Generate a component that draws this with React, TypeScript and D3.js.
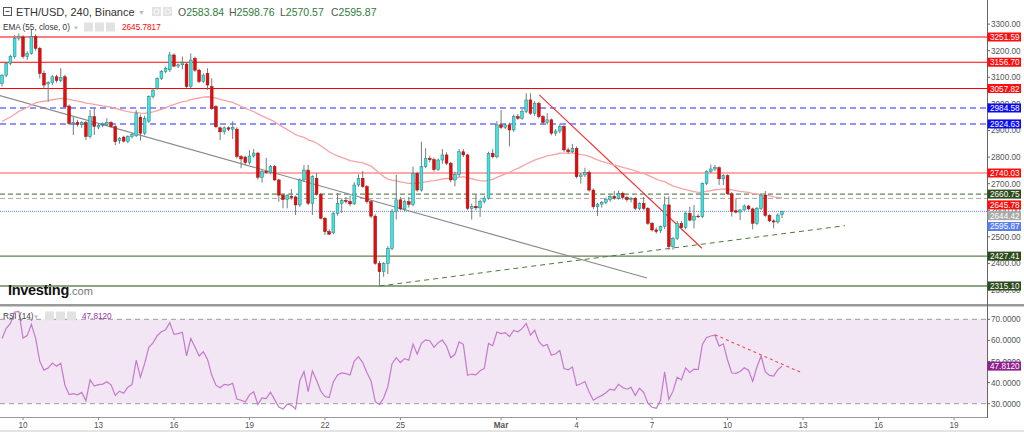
import React from 'react';
import * as d3 from 'd3';

// ---------------- DATA ----------------
const FIRST_CANDLE = '2022-02-09T04:00:00Z';
const CANDLE_HOURS = 4;

const OPEN = [
  3077, 3108, 3153, 3178, 3247, 3252, 3178, 3190, 3253, 3209,
  3115, 3075, 3080, 3102, 3088, 3102, 2992, 2925, 2930, 2922,
  2930, 2877, 2952, 2913, 2920, 2922, 2930, 2915, 2862, 2875,
  2860, 2877, 2880, 2950, 2890, 2935, 3027, 3059, 3096, 3122,
  3128, 3184, 3142, 3147, 3150, 3065, 3171, 3127, 3084, 3115,
  3065, 2990, 2910, 2895, 2910, 2905, 2905, 2802, 2800, 2779,
  2804, 2815, 2724, 2747, 2742, 2764, 2714, 2657, 2640, 2652,
  2650, 2620, 2714, 2751, 2626, 2720, 2660, 2570, 2520, 2515,
  2588, 2626, 2637, 2633, 2624, 2695, 2720, 2689, 2632, 2578,
  2400, 2369, 2400, 2457, 2595, 2639, 2605, 2632, 2622, 2739,
  2676, 2764, 2795, 2790, 2753, 2789, 2808, 2777, 2714, 2735,
  2820, 2808, 2607, 2615, 2609, 2632, 2645, 2814, 2801, 2921,
  2912, 2921, 2902, 2952, 2946, 2971, 3015, 2965, 3002, 2952,
  2930, 2940, 2890, 2898, 2915, 2827, 2820, 2833, 2726, 2733,
  2742, 2676, 2613, 2623, 2630, 2640, 2652, 2645, 2664, 2648,
  2640, 2645, 2607, 2626, 2607, 2551, 2526, 2524, 2538, 2620,
  2463, 2494, 2551, 2535, 2588, 2563, 2578, 2576, 2701, 2745,
  2755, 2760, 2718, 2730, 2662, 2598, 2593, 2601, 2616, 2605,
  2551, 2607, 2657, 2580, 2560, 2556, 2583.84,
];
const HIGH = [
  3112, 3158, 3185, 3259, 3265, 3258, 3198, 3278, 3262, 3215,
  3125, 3085, 3108, 3110, 3134, 3110, 2998, 2952, 2940, 2935,
  2936, 2977, 2983, 2925, 2930, 2946, 2935, 2920, 2875, 2880,
  2882, 2890, 2977, 2960, 2955, 3032, 3058, 3100, 3128, 3140,
  3196, 3190, 3152, 3178, 3155, 3190, 3178, 3132, 3115, 3134,
  3096, 2995, 2915, 2915, 2915, 2935, 2912, 2808, 2805, 2826,
  2830, 2820, 2752, 2797, 2770, 2770, 2718, 2662, 2660, 2680,
  2655, 2720, 2770, 2770, 2732, 2741, 2665, 2575, 2528, 2595,
  2664, 2645, 2650, 2655, 2705, 2735, 2748, 2695, 2638, 2585,
  2410, 2405, 2465, 2605, 2733, 2650, 2640, 2650, 2764, 2745,
  2858, 2833, 2805, 2798, 2795, 2830, 2818, 2782, 2745, 2830,
  2830, 2812, 2625, 2660, 2640, 2655, 2820, 2830, 2935, 2977,
  2925, 2930, 2960, 2962, 2980, 3040, 3040, 3010, 3008, 2958,
  2965, 2945, 2905, 2925, 2920, 2835, 2850, 2840, 2740, 2760,
  2750, 2682, 2628, 2635, 2648, 2658, 2672, 2674, 2670, 2655,
  2650, 2650, 2630, 2650, 2612, 2556, 2535, 2542, 2652, 2652,
  2500, 2560, 2560, 2595, 2613, 2620, 2585, 2705, 2750, 2772,
  2770, 2765, 2735, 2735, 2668, 2645, 2605, 2622, 2620, 2610,
  2612, 2662, 2672, 2585, 2566, 2588, 2598.76,
];
const LOW = [
  3065, 3100, 3145, 3170, 3238, 3170, 3165, 3185, 3200, 3096,
  3059, 3008, 3070, 3080, 3082, 2985, 2920, 2883, 2915, 2910,
  2864, 2870, 2883, 2905, 2912, 2918, 2910, 2845, 2850, 2855,
  2852, 2870, 2875, 2862, 2882, 2928, 3020, 3052, 3090, 3115,
  3120, 3138, 3135, 3130, 3059, 3060, 3120, 3078, 3078, 3052,
  2978, 2908, 2864, 2885, 2898, 2868, 2795, 2758, 2770, 2772,
  2798, 2716, 2704, 2738, 2735, 2710, 2632, 2607, 2607, 2640,
  2582, 2612, 2708, 2620, 2582, 2655, 2565, 2507, 2507, 2510,
  2580, 2590, 2625, 2615, 2620, 2688, 2685, 2625, 2570, 2395,
  2315, 2350, 2360, 2450, 2565, 2600, 2595, 2610, 2615, 2670,
  2670, 2758, 2780, 2745, 2748, 2775, 2770, 2705, 2690, 2725,
  2800, 2600, 2565, 2600, 2575, 2625, 2640, 2795, 2795, 2905,
  2905, 2840, 2895, 2940, 2940, 2965, 2958, 2955, 2945, 2920,
  2922, 2882, 2880, 2890, 2820, 2812, 2815, 2720, 2700, 2725,
  2670, 2605, 2578, 2610, 2622, 2632, 2640, 2640, 2640, 2632,
  2630, 2600, 2600, 2600, 2545, 2520, 2512, 2515, 2530, 2451,
  2451, 2488, 2525, 2528, 2558, 2532, 2572, 2570, 2695, 2740,
  2748, 2695, 2695, 2658, 2576, 2588, 2563, 2598, 2600, 2528,
  2545, 2600, 2575, 2555, 2532, 2550, 2570.57,
];
const CLOSE = [
  3108, 3153, 3178, 3247, 3252, 3178, 3190, 3253, 3209, 3115,
  3071, 3080, 3102, 3088, 3100, 2989, 2927, 2930, 2922, 2930,
  2877, 2952, 2915, 2920, 2922, 2930, 2915, 2858, 2871, 2860,
  2877, 2885, 2965, 2890, 2945, 3027, 3052, 3096, 3122, 3134,
  3184, 3142, 3147, 3155, 3065, 3165, 3127, 3084, 3108, 3071,
  2983, 2914, 2895, 2910, 2905, 2912, 2802, 2793, 2779, 2804,
  2815, 2724, 2747, 2742, 2764, 2714, 2657, 2640, 2655, 2648,
  2620, 2714, 2751, 2626, 2726, 2660, 2570, 2520, 2510, 2588,
  2626, 2637, 2633, 2624, 2695, 2720, 2689, 2632, 2578, 2400,
  2369, 2400, 2457, 2595, 2639, 2605, 2632, 2622, 2739, 2676,
  2764, 2795, 2790, 2753, 2789, 2808, 2777, 2714, 2735, 2820,
  2808, 2607, 2615, 2609, 2632, 2645, 2814, 2801, 2921, 2912,
  2921, 2902, 2952, 2946, 2971, 3015, 2965, 3002, 2952, 2930,
  2940, 2890, 2898, 2915, 2827, 2820, 2833, 2726, 2733, 2742,
  2676, 2613, 2623, 2630, 2640, 2652, 2645, 2664, 2648, 2640,
  2645, 2607, 2626, 2607, 2551, 2526, 2520, 2538, 2620, 2463,
  2494, 2551, 2535, 2588, 2563, 2578, 2576, 2701, 2745, 2755,
  2760, 2718, 2730, 2662, 2595, 2593, 2601, 2616, 2605, 2551,
  2607, 2657, 2580, 2560, 2556, 2582, 2595.87,
];

// indicator settings
const EMA_PERIOD = 55;
const EMA_SEED = 2928;
const RSI_PERIOD = 14;
const RSI_SEED_GAIN = 14;
const RSI_SEED_LOSS = 10.5;
const EMA_LAST = 2645.7817;
const RSI_LAST = 47.812;
const PREV_LEVEL = 2644.42;

// horizontal levels
const RED_LEVELS = [3251.59, 3156.7, 3057.82, 2740.03];
const BLUE_LEVELS = [2984.58, 2924.63];
const GREEN_DASHED_LEVELS = [2660.75];
const GREEN_LEVELS = [2427.41, 2315.1];

// trend lines [time, price]
const TREND_GRAY: [string, number][] = [['2022-02-09T02:00:00Z', 3031], ['2022-03-06T19:12:00Z', 2345]];
const TREND_GREEN: [string, number][] = [['2022-02-24T04:00:00Z', 2315], ['2022-03-14T16:00:00Z', 2542]];
const TREND_RED: [string, number][] = [['2022-03-02T12:24:00Z', 3034], ['2022-03-08T23:36:00Z', 2457]];
const RSI_TREND: [string, number][] = [['2022-03-09T12:00:00Z', 62.7], ['2022-03-12T21:12:00Z', 45]];

const PRICE_TICKS = [3300, 3200, 3100, 3000, 2900, 2800, 2700, 2600, 2500, 2400, 2300];
const RSI_TICKS = [70, 60, 50, 40, 30];
const DATE_TICKS: [string, string][] = [
  ['2022-02-10', '10'], ['2022-02-13', '13'], ['2022-02-16', '16'], ['2022-02-19', '19'],
  ['2022-02-22', '22'], ['2022-02-25', '25'], ['2022-03-01', 'Mar'], ['2022-03-04', '4'],
  ['2022-03-07', '7'], ['2022-03-10', '10'], ['2022-03-13', '13'], ['2022-03-16', '16'],
  ['2022-03-19', '19'],
];

const SYMBOL = 'ETH/USD, 240, Binance';
const OHLC_LAST: [string, number][] = [['O', 2583.84], ['H', 2598.76], ['L', 2570.57], ['C', 2595.87]];

// ---------------- LAYOUT ----------------
const W = 1024;
const H = 432;
const PLOT_R = 987;
const PRICE_BOTTOM = 304;
const RSI_TOP = 307;
const RSI_BOTTOM = 417;
const FONT = "'Liberation Sans', Arial, sans-serif";

const UP_FILL = '#3fe3e0';
const UP_EDGE = '#2b7a78';
const DOWN_FILL = '#e50c0c';
const DOWN_EDGE = '#9a1010';
const WICK = '#6f7f7f';

export default function App() {
  const t0 = new Date(FIRST_CANDLE).getTime();
  const candles = CLOSE.map((c, k) => ({
    t: new Date(t0 + k * CANDLE_HOURS * 3600 * 1000),
    o: OPEN[k], h: HIGH[k], l: LOW[k], c,
  }));

  const x = d3.scaleUtc()
    .domain([new Date('2022-02-10T00:00:00Z'), new Date('2022-03-19T00:00:00Z')])
    .range([23, 954]);
  const y = d3.scaleLinear().domain([2315.1, 3251.59]).range([286, 37]);
  const yr = d3.scaleLinear().domain([30, 70]).range([403.7, 319.3]);

  // EMA
  const alpha = 2 / (EMA_PERIOD + 1);
  let e = EMA_SEED;
  const ema = CLOSE.map((c) => (e = e + alpha * (c - e)));

  // RSI (Wilder)
  let ag = RSI_SEED_GAIN, al = RSI_SEED_LOSS, prev = OPEN[0];
  const rsi = CLOSE.map((c) => {
    const ch = c - prev;
    prev = c;
    ag = (ag * (RSI_PERIOD - 1) + Math.max(ch, 0)) / RSI_PERIOD;
    al = (al * (RSI_PERIOD - 1) + Math.max(-ch, 0)) / RSI_PERIOD;
    return 100 - 100 / (1 + ag / al);
  });

  const emaLine = d3.line<number>().x((_, k) => x(candles[k].t)).y((v) => y(v));
  const rsiLine = d3.line<number>().x((_, k) => x(candles[k].t)).y((v) => yr(v));

  const tl = (pts: [string, number][], sc: (v: number) => number) =>
    pts.map(([t, v]) => [x(new Date(t)), sc(v)] as [number, number]);

  // axis labels with stacking
  type Lab = { v: number; text: string; bg: string; fg: string };
  const labs: Lab[] = [
    ...RED_LEVELS.map((v) => ({ v, text: v.toFixed(2), bg: '#ff0d0d', fg: '#fff' })),
    ...BLUE_LEVELS.map((v) => ({ v, text: v.toFixed(2), bg: '#0a0af0', fg: '#fff' })),
    ...GREEN_DASHED_LEVELS.map((v) => ({ v, text: v.toFixed(2), bg: '#2c4a1c', fg: '#fff' })),
    ...GREEN_LEVELS.map((v) => ({ v, text: v.toFixed(2), bg: '#2c4a1c', fg: '#fff' })),
    { v: EMA_LAST, text: EMA_LAST.toFixed(2), bg: '#ff0d0d', fg: '#fff' },
    { v: PREV_LEVEL, text: PREV_LEVEL.toFixed(2), bg: '#a8a8a8', fg: '#fff' },
    { v: CLOSE[CLOSE.length - 1], text: CLOSE[CLOSE.length - 1].toFixed(2), bg: '#5a7ef0', fg: '#fff' },
  ];
  labs.sort((a, b) => b.v - a.v);
  const placed: { lab: Lab; cy: number }[] = [];
  labs.forEach((lab) => {
    let cy = y(lab.v);
    const last = placed[placed.length - 1];
    if (last && cy < last.cy + 10.8) cy = last.cy + 10.8;
    placed.push({ lab, cy });
  });

  return (
    <div style={{ position: 'absolute', left: 0, top: 0, width: W, height: H, background: '#fff' }}>
      <svg width={W} height={H} style={{ display: 'block', fontFamily: FONT }}>
        <defs>
          <clipPath id="pc"><rect x={0} y={0} width={PLOT_R} height={PRICE_BOTTOM} /></clipPath>
          <clipPath id="rc"><rect x={0} y={RSI_TOP} width={PLOT_R} height={RSI_BOTTOM - RSI_TOP} /></clipPath>
        </defs>
        <rect x={0} y={0} width={W} height={H} fill="#fff" />

        {/* price panel */}
        <g clipPath="url(#pc)">
          {RED_LEVELS.map((v, k) => (
            <line key={'r' + k} x1={0} x2={PLOT_R} y1={y(v)} y2={y(v)} stroke={k === 3 ? '#f55' : '#f00'} strokeWidth={1.1} />
          ))}
          {BLUE_LEVELS.map((v, k) => (
            <line key={'b' + k} x1={0} x2={PLOT_R} y1={y(v)} y2={y(v)} stroke="#2525ff" strokeWidth={1.1} strokeDasharray="6,4" />
          ))}
          {GREEN_DASHED_LEVELS.map((v, k) => (
            <line key={'g' + k} x1={0} x2={PLOT_R} y1={y(v)} y2={y(v)} stroke="#3b6a2a" strokeWidth={1} strokeDasharray="5,3" />
          ))}
          <line x1={0} x2={PLOT_R} y1={y(PREV_LEVEL)} y2={y(PREV_LEVEL)} stroke="#a8a8a8" strokeWidth={1} strokeDasharray="5,3" />
          <line x1={0} x2={PLOT_R} y1={y(CLOSE[CLOSE.length - 1])} y2={y(CLOSE[CLOSE.length - 1])} stroke="#6a80f0" strokeWidth={1} strokeDasharray="1,1" />
          {GREEN_LEVELS.map((v, k) => (
            <line key={'gs' + k} x1={0} x2={PLOT_R} y1={y(v)} y2={y(v)} stroke={k === 0 ? '#5f7f4f' : '#8fa483'} strokeWidth={k === 0 ? 1.3 : 2} />
          ))}

          <path d={d3.line()(tl(TREND_GRAY, y)) || ''} stroke="#8a8a8a" strokeWidth={1.1} fill="none" />
          <path d={d3.line()(tl(TREND_GREEN, y)) || ''} stroke="#4f7a3f" strokeWidth={1} strokeDasharray="5,4" fill="none" />
          <path d={d3.line()(tl(TREND_RED, y)) || ''} stroke="#f03030" strokeWidth={1.1} fill="none" />

          <path d={emaLine(ema) || ''} stroke="#f7a3a3" strokeWidth={1.3} fill="none" />

          {candles.map((d, k) => {
            const cx = x(d.t);
            const up = d.c >= d.o;
            const top = y(Math.max(d.o, d.c));
            const bot = y(Math.min(d.o, d.c));
            return (
              <g key={k}>
                <line x1={cx} x2={cx} y1={y(d.h)} y2={y(d.l)} stroke={WICK} strokeWidth={1} />
                <rect x={cx - 1.4} y={top} width={2.8} height={Math.max(0.8, bot - top)}
                  fill={up ? UP_FILL : DOWN_FILL} stroke={up ? UP_EDGE : DOWN_EDGE} strokeWidth={0.5} />
              </g>
            );
          })}
        </g>

        {/* Investing.com logo */}
        <text x={8} y={295} fontSize={14.5} fontWeight="bold" fill="#111" letterSpacing={-0.3}>Investing</text>
        <text x={69} y={295} fontSize={11} fill="#777">.com</text>

        {/* header */}
        <rect x={3.5} y={7.5} width={8} height={8} fill="none" stroke="#555" strokeWidth={1} />
        <line x1={5.5} x2={9.5} y1={11.5} y2={11.5} stroke="#555" strokeWidth={1} />
        <text x={16} y={16} fontSize={11} fill="#333">{SYMBOL}</text>
        <text x={138} y={15} fontSize={7} fill="#bbb">▼</text>
        <rect x={152} y={7} width={9} height={9} fill="#e2e2e2" />
        <rect x={163} y={7} width={9} height={9} fill="#e2e2e2" />
        <circle cx={156.5} cy={11.5} r={2.5} fill="none" stroke="#fff" strokeWidth={1} />
        <circle cx={167.5} cy={11.5} r={2.5} fill="none" stroke="#fff" strokeWidth={1.2} strokeDasharray="1.5,1" />
        {OHLC_LAST.map(([k, v], i) => (
          <text key={k} x={178 + i * 51} y={16} fontSize={10.5}>
            <tspan fill="#555">{k}</tspan>
            <tspan fill="#2f7d3a">{v.toFixed(2)}</tspan>
          </text>
        ))}
        <text x={3} y={30} fontSize={8.2} fill="#333">EMA (55, close, 0)</text>
        <text x={73} y={29.5} fontSize={6} fill="#bbb">▼</text>
        {[0, 1, 2].map((i) => (
          <rect key={i} x={84 + i * 11} y={22.5} width={9} height={9} fill="#e2e2e2" />
        ))}
        <text x={122} y={30} fontSize={8.2} fill="#f00">{EMA_LAST.toFixed(4)}</text>

        {/* separators */}
        <rect x={0} y={PRICE_BOTTOM} width={W} height={2.5} fill="#9a9a9a" />
        <line x1={PLOT_R + 0.5} x2={PLOT_R + 0.5} y1={0} y2={RSI_BOTTOM + 1} stroke="#666" strokeWidth={1} />
        <line x1={0} x2={PLOT_R} y1={RSI_BOTTOM + 0.5} y2={RSI_BOTTOM + 0.5} stroke="#999" strokeWidth={1.2} />

        {/* RSI panel */}
        <rect x={0} y={yr(70)} width={PLOT_R} height={yr(30) - yr(70)} fill="#f2e6f4" />
        {[70, 30].map((v) => (
          <line key={v} x1={0} x2={PLOT_R} y1={yr(v)} y2={yr(v)} stroke="#9a9a9a" strokeWidth={1} strokeDasharray="5,4" />
        ))}
        <g clipPath="url(#rc)">
          <path d={rsiLine(rsi) || ''} stroke="#c479cc" strokeWidth={1.2} fill="none" />
          <path d={d3.line()(tl(RSI_TREND, yr)) || ''} stroke="#f04a5a" strokeWidth={1.1} strokeDasharray="3,3" fill="none" />
        </g>
        <text x={3} y={319} fontSize={8.2} fill="#444">RSI (14)</text>
        <text x={33} y={318.5} fontSize={6} fill="#bbb">▼</text>
        {[0, 1, 2].map((i) => (
          <rect key={i} x={45 + i * 11} y={311.5} width={9} height={9} fill="#e2e2e2" />
        ))}
        <text x={82} y={319} fontSize={8.2} fill="#9b2fa3">{RSI_LAST.toFixed(4)}</text>

        {/* price axis */}
        {PRICE_TICKS.map((v) => (
          <g key={v}>
            <line x1={PLOT_R} x2={PLOT_R + 3} y1={y(v)} y2={y(v)} stroke="#666" />
            <text x={991} y={y(v) + 3} fontSize={8.2} fill="#555">{v.toFixed(2)}</text>
          </g>
        ))}
        {placed.map(({ lab, cy }, k) => (
          <g key={k}>
            <rect x={PLOT_R + 0.5} y={cy - 4.5} width={33.5} height={9} fill={lab.bg} />
            <text x={990} y={cy + 3} fontSize={8.2} fill={lab.fg}>{lab.text}</text>
          </g>
        ))}

        {/* RSI axis */}
        {RSI_TICKS.map((v) => (
          <g key={v}>
            <line x1={PLOT_R} x2={PLOT_R + 3} y1={yr(v)} y2={yr(v)} stroke="#666" />
            <text x={991} y={yr(v) + 3} fontSize={8.2} fill="#555">{v.toFixed(4)}</text>
          </g>
        ))}
        <rect x={PLOT_R + 0.5} y={yr(RSI_LAST) - 4.5} width={33.5} height={9} fill="#8e1f8e" />
        <text x={990} y={yr(RSI_LAST) + 3} fontSize={8.2} fill="#fff">{RSI_LAST.toFixed(4)}</text>

        {/* time axis */}
        {DATE_TICKS.map(([d, lbl]) => {
          const tx = x(new Date(d + 'T00:00:00Z'));
          return (
            <g key={d}>
              <line x1={tx} x2={tx} y1={RSI_BOTTOM + 1} y2={RSI_BOTTOM + 3} stroke="#888" />
              <text x={tx} y={428} fontSize={8.2} textAnchor="middle"
                fill="#555" fontWeight={lbl === 'Mar' ? 'bold' : 'normal'}>{lbl}</text>
            </g>
          );
        })}
        <rect x={0} y={430} width={W} height={2} fill="#e4e4e4" />
      </svg>
    </div>
  );
}
